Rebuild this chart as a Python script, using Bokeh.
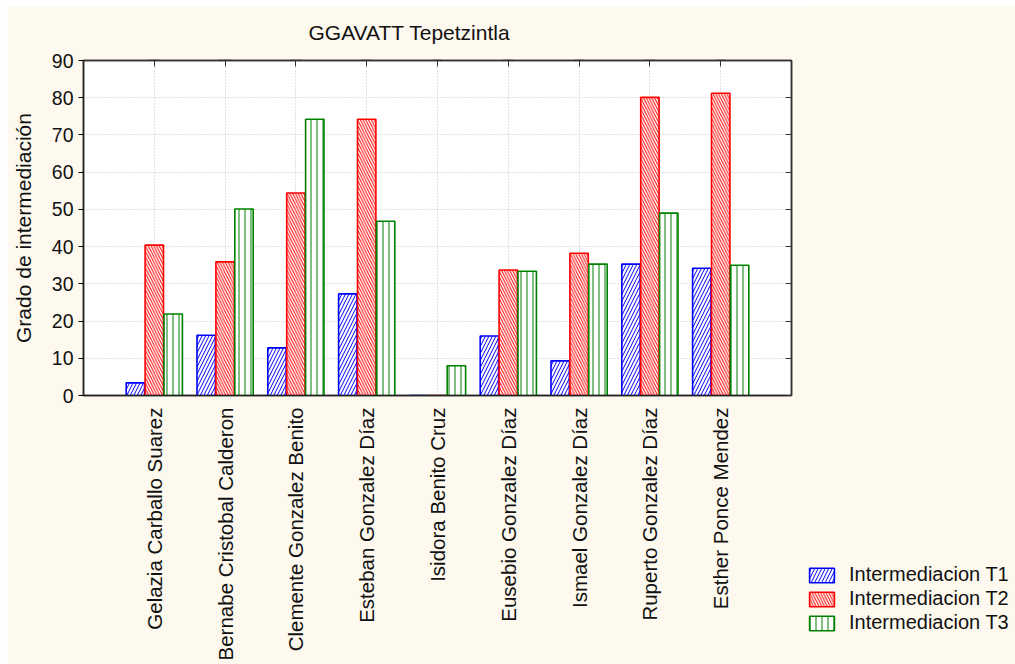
import math
from bokeh.plotting import figure
from bokeh.layouts import row, column
from bokeh.models import (ColumnDataSource, FactorRange, Range1d, CategoricalAxis,
                          LinearAxis, Legend, LegendItem, FixedTicker, Spacer, BoxAnnotation)
from bokeh.transform import dodge
from bokeh.embed import file_html
from bokeh.resources import INLINE

names = ["Gelazia Carballo Suarez", "Bernabe Cristobal Calderon", "Clemente Gonzalez Benito",
         "Esteban Gonzalez Díaz", "Isidora Benito Cruz", "Eusebio Gonzalez Díaz",
         "Ismael Gonzalez Díaz", "Ruperto Gonzalez Díaz", "Esther Ponce Mendez"]
t1 = [3.4, 16.2, 12.8, 27.3, 0.0, 16.0, 9.3, 35.3, 34.2]
t2 = [40.4, 35.9, 54.4, 74.2, 0.0, 33.7, 38.2, 80.1, 81.2]
t3 = [21.9, 50.1, 74.2, 46.8, 8.0, 33.4, 35.3, 49.0, 35.0]
series_labels = ["Intermediacion T1", "Intermediacion T2", "Intermediacion T3"]
y_ticks = [0, 10, 20, 30, 40, 50, 60, 70, 80, 90]
title_text = "GGAVATT Tepetzintla"
y_label = "Grado de intermediación"

FONT = "Liberation Sans"
CREAM = "#FEF9EE"
TXT = "#111111"

styles = [
    dict(fill_color="white", line_color="#0000FF", line_width=1.6,
         hatch_pattern="/", hatch_color="#0000FF", hatch_scale=7, hatch_weight=1),
    dict(fill_color="white", line_color="#FF0000", line_width=1.6,
         hatch_pattern="\\", hatch_color="#FF0000", hatch_scale=5.5, hatch_weight=1),
    dict(fill_color="white", line_color="#008000", line_width=1.6,
         hatch_pattern="|", hatch_color="#008000", hatch_scale=6, hatch_weight=1),
]
series_cols = ["t1", "t2", "t3"]
offsets = [-0.267, 0.0, 0.267]

p = figure(width=796, height=658,
           x_range=FactorRange(factors=names, range_padding=0.5, range_padding_units="absolute"),
           y_range=Range1d(0, 90),
           output_backend="svg", toolbar_location=None,
           background_fill_color="white", border_fill_color=CREAM,
           min_border_left=76, min_border_right=12, min_border_top=54, min_border_bottom=269)

src = ColumnDataSource(dict(names=names, t1=t1, t2=t2, t3=t3))

bw = 0.26
for col, off, st in zip(series_cols, offsets, styles):
    p.vbar(x=dodge('names', off, range=p.x_range), top=col, width=bw, source=src, **st)

# title
p.title.text = title_text
p.title.align = "left"
p.title.offset = 225
p.title.standoff = 25
p.title.text_font = FONT
p.title.text_font_size = "21px"
p.title.text_font_style = "normal"
p.title.text_color = TXT

# x axis
xa = p.xaxis[0]
xa.major_label_orientation = math.pi / 2
xa.major_tick_out = 0
xa.major_tick_in = 0
xa.major_label_standoff = 12
xa.major_label_text_font = FONT
xa.major_label_text_font_size = "20.5px"
xa.major_label_text_color = TXT
xa.axis_line_color = "#222222"
xa.axis_line_width = 1.5

# y axis
ya = p.yaxis[0]
ya.ticker = FixedTicker(ticks=y_ticks)
ya.major_tick_out = 5
ya.major_tick_in = 0
ya.minor_tick_out = 0
ya.minor_tick_in = 0
ya.major_label_standoff = 5
ya.major_label_text_font = FONT
ya.major_label_text_font_size = "19.5px"
ya.major_label_text_color = TXT
ya.axis_label = y_label
ya.axis_label_text_font = FONT
ya.axis_label_text_font_size = "21px"
ya.axis_label_text_font_style = "normal"
ya.axis_label_text_color = TXT
ya.axis_label_standoff = 14
ya.axis_line_color = "#222222"
ya.axis_line_width = 1.5

# top axis (inward ticks only)
top = CategoricalAxis(major_tick_in=6, major_tick_out=0,
                      major_label_overrides={n: " " for n in names},
                      major_label_text_font_size="1px",
                      major_label_standoff=0, axis_line_color="#333333", axis_line_width=1.5,
                      major_tick_line_color="#333333")
p.add_layout(top, "above")

# right axis (inward ticks only)
right = LinearAxis(ticker=FixedTicker(ticks=y_ticks), major_tick_in=6, major_tick_out=0,
                   minor_tick_in=0, minor_tick_out=0,
                   major_label_overrides={t: " " for t in y_ticks},
                   major_label_text_font_size="1px",
                   major_label_standoff=0, axis_line_color="#333333", axis_line_width=1.5,
                   major_tick_line_color="#333333")
p.add_layout(right, "right")

p.outline_line_color = "#333333"
p.outline_line_width = 1.5

p.xgrid.grid_line_color = "#c4c4c4"
p.xgrid.grid_line_dash = "1 2"
p.ygrid.grid_line_color = "#c4c4c4"
p.ygrid.grid_line_dash = "1 2"
p.ygrid.ticker = FixedTicker(ticks=y_ticks)

# blank cream panel above the legend
blank = figure(width=212, height=550, x_axis_type=None, y_axis_type=None,
               output_backend="svg", toolbar_location=None,
               min_border_left=0, min_border_right=0, min_border_top=0, min_border_bottom=0,
               background_fill_color=CREAM, border_fill_color=CREAM, outline_line_color=None)

# legend in its own small figure; its series bars lie outside the visible y range
leg = figure(width=212, height=108, x_range=p.x_range, y_range=Range1d(100, 101),
             x_axis_type=None, y_axis_type=None,
             output_backend="svg", toolbar_location=None,
             min_border_left=0, min_border_right=0, min_border_top=0, min_border_bottom=0,
             background_fill_color=CREAM, border_fill_color=CREAM, outline_line_color=None)
lr = [leg.vbar(x=dodge('names', off, range=leg.x_range), top=col, width=bw, source=src, **st)
      for col, off, st in zip(series_cols, offsets, styles)]
leg.add_layout(BoxAnnotation(fill_color=CREAM, fill_alpha=1.0, line_color=None))

legend = Legend(items=[LegendItem(label=series_labels[i], renderers=[lr[i]]) for i in range(3)],
                location=(3, 30), glyph_width=31, glyph_height=18,
                label_text_font=FONT, label_text_font_size="20px", label_text_color=TXT,
                label_standoff=12, label_height=18, spacing=1, padding=0, margin=0,
                border_line_color=None, background_fill_alpha=0)
leg.add_layout(legend)

layout = column(Spacer(height=6),
                row(Spacer(width=7), p, column(blank, leg)))

open("out.html", "w").write(file_html(layout, INLINE))
